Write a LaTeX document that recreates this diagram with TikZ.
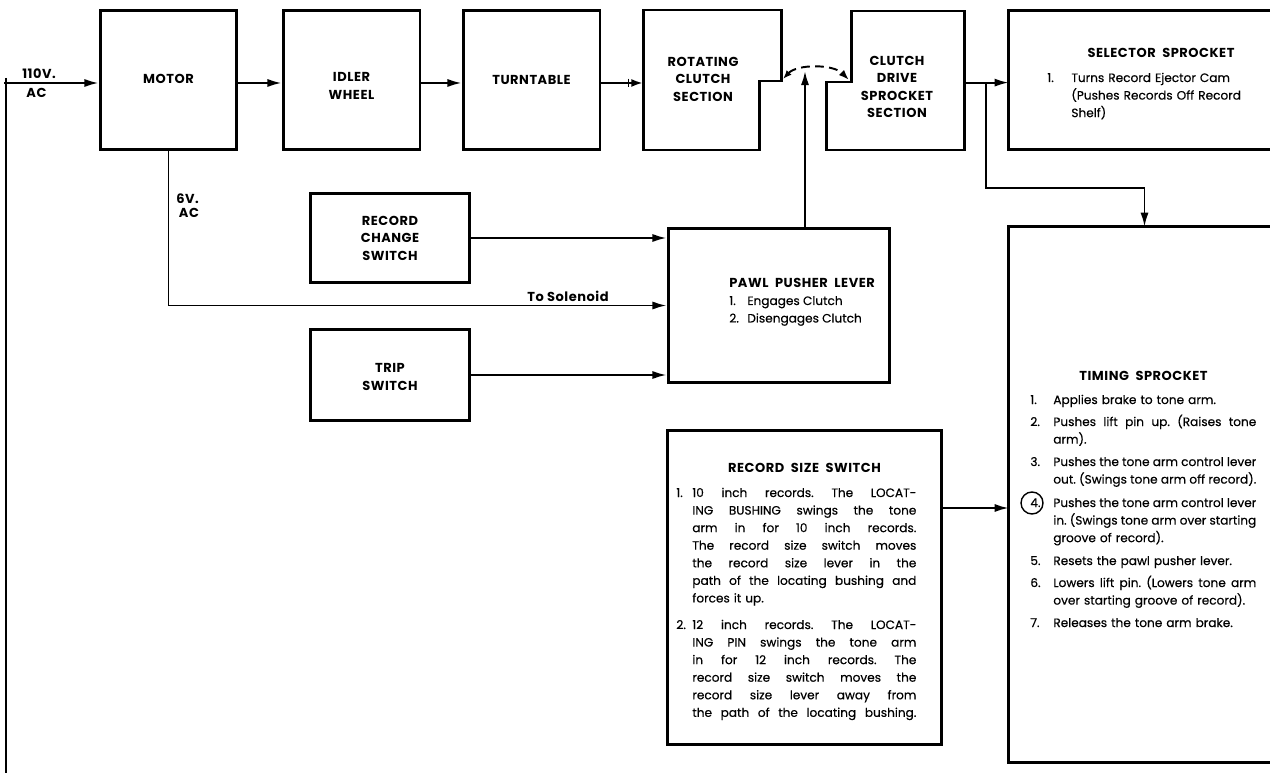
\documentclass[tikz,border=0pt]{standalone}
\usepackage{fontspec}
\setmainfont{Poppins}
\newfontfamily\ttlfont{Poppins}[LetterSpace=4]
\newfontfamily\bodyfont{Poppins}[FakeBold=0.4]
\usetikzlibrary{arrows.meta,calc}
\newcommand\jlrs[1]{\makebox[127.5pt][s]{\spaceskip=0.3em plus 2em minus 0.1em\xspaceskip=\spaceskip #1}}
\newcommand\jltm[1]{\makebox[115.5pt][s]{\spaceskip=0.3em plus 2em minus 0.1em\xspaceskip=\spaceskip #1}}
\begin{document}
\begin{tikzpicture}[x=0.02cm,y=-0.02cm,
  box/.style={draw,line width=1.7pt,inner sep=0pt},
  blank/.style={inner sep=0pt},
  lbl/.style={font=\ttlfont\bfseries\fontsize{7.4}{10}\selectfont,align=center,inner sep=0pt},
  conn/.style={line width=1.1pt},
  arr/.style={conn,-{Latex[length=8pt,width=4.6pt]}},
  ttl/.style={font=\ttlfont\bfseries\fontsize{7.4}{10}\selectfont,inner sep=0pt,anchor=base},
  num/.style={font=\bodyfont\fontsize{6.9}{10}\selectfont,inner sep=0pt,anchor=base west},
  body/.style={font=\bodyfont\fontsize{6.9}{10}\selectfont,inner sep=0pt,anchor=base west,align=left},
]
\useasboundingbox (0,0) rectangle (1270,773);
\fill[white] (0,0) rectangle (1270,773);

% left scan edge
\draw[line width=1.2pt] (6,78) -- (6,773);

% boxes
\node[box,minimum width=2.74cm,minimum height=2.8cm] (motor) at (168.5,80) {};
\node[box,minimum width=2.74cm,minimum height=2.8cm] (idler) at (351.5,80) {};
\node[box,minimum width=2.74cm,minimum height=2.8cm] (turn) at (531.5,80) {};
\node[blank,minimum width=2.76cm,minimum height=2.8cm] (rot) at (712,80) {};
\draw[line width=1.7pt] (643,10) -- (781,10) -- (781,81) -- (759,81) -- (759,150) -- (643,150) -- cycle;
\node[blank,minimum width=2.76cm,minimum height=2.78cm] (cd) at (895,80.5) {};
\draw[line width=1.7pt] (851,11) -- (964,11) -- (964,150) -- (826,150) -- (826,82) -- (851,82) -- cycle;
\node[blank,minimum width=5.42cm,minimum height=2.76cm] (sel) at (1144.5,80) {};
\draw[line width=1.7pt] (sel.north east) -- (sel.north west) -- (sel.south west) -- (sel.south east);
\node[box,minimum width=3.2cm,minimum height=1.8cm] (recchg) at (390,238) {};
\node[box,minimum width=3.2cm,minimum height=1.84cm] (trip) at (390,375) {};
\node[box,minimum width=4.44cm,minimum height=3.1cm] (pawl) at (779,305.5) {};
\node[box,minimum width=5.5cm,minimum height=6.3cm] (recsize) at (804.5,587.5) {};
\node[blank,minimum width=5.42cm,minimum height=10.7cm] (timing) at (1144.5,494.5) {};
\draw[line width=1.7pt] (timing.north east) -- (timing.north west) -- (timing.south west) -- (timing.south east);

% box labels
\node[lbl] (tmotor) at (168.5,79) {MOTOR};
\node[lbl] (tidler) at (351.5,86) {IDLER\\WHEEL};
\node[lbl] (tturn) at (531.5,80) {TURNTABLE};
\node[lbl] (trot) at (703,79) {ROTATING\\CLUTCH\\SECTION};
\node[lbl] (tcd) at (897,87) {CLUTCH\\DRIVE\\SPROCKET\\SECTION};
\node[lbl] (trc) at (390,238) {RECORD\\CHANGE\\SWITCH};
\node[lbl] (ttrip) at (390,377) {TRIP\\SWITCH};

% connector labels
\node[lbl] (v110) at (39,74) {110V.};
\node[lbl] (vac) at (36.5,92.5) {AC};
\node[lbl] (v6) at (187.5,199) {6V.};
\node[lbl] (v6ac) at (189,213) {AC};
\node[lbl] (sol) at (568,296) {To Solenoid};

% connectors
\coordinate (src) at (4,83);
\draw[arr] (src) -- (src -| motor.west);
\draw[arr] ([yshift=-1.7pt]motor.east) -- ([yshift=-1.7pt]idler.west);
\draw[arr] ([yshift=-1.7pt]idler.east) -- ([yshift=-1.7pt]turn.west);
\draw[conn,-{Bar[width=5pt,sep=1pt]Latex[length=6.5pt,width=4.6pt]}] ([yshift=-1.7pt]turn.east) -- ([yshift=-1.7pt]rot.west);
\draw[arr] (motor.south) |- (pawl.west);
\draw[arr] (recchg.east) -- (recchg.east -| pawl.west);
\draw[arr] (trip.east) -- (trip.east -| pawl.west);
\coordinate (rn) at (783,79);
\coordinate (cn) at (849,80);
\draw[conn,dash pattern=on 5pt off 3pt,{Latex[length=5pt,width=3.8pt]}-{Latex[length=6pt,width=4.2pt]}] (rn) .. controls (797,64) and (833,64) .. (cn);
\coordinate (tap) at (805,71);
\draw[arr] (tap |- pawl.north) -- (tap);
\draw[arr] ([yshift=-1.2pt]cd.east) -- ([yshift=-1.2pt]cd.east -| sel.west);
\coordinate (br) at (986,82.7);
\draw[conn] (br) |- (timing.north |- 0,188);
\draw[arr] (timing.north |- 0,188) -- (timing.north);
\coordinate (rsy) at (0,508);
\draw[arr] (recsize.east |- rsy) -- (timing.west |- rsy);

% pawl pusher lever text
\node[ttl,anchor=base west] (pawlt) at (729,287.5) {PAWL\ \ PUSHER\ \ LEVER};
\node[num] (p1n) at (729,305) {1.};
\node[body] (p1) at (747,305) {Engages Clutch};
\node[num] (p2n) at (729,322.5) {2.};
\node[body] (p2) at (747,322.5) {Disengages Clutch};

% selector sprocket text
\node[ttl] (selt) at (1161,57.5) {SELECTOR\ \ SPROCKET};
\node[num] (s1n) at (1047,82) {1.};
\node[body,text width=170pt] (s1) at (1071,82) {Turns Record Ejector Cam\\(Pushes Records Off Record\\Shelf)};

% record size switch text
\node[ttl] (rst) at (804.5,472.5) {RECORD\ \ SIZE\ \ SWITCH};
\node[num] (r1n) at (676,497) {1.};
\node[body,text width=127.5pt] (r1) at (692,497) {\jlrs{10 inch records. The LOCAT-}\\
\jlrs{ING BUSHING swings the tone}\\
\jlrs{arm in for 10 inch records.}\\
\jlrs{The record size switch moves}\\
\jlrs{the record size lever in the}\\
\jlrs{path of the locating bushing and}\\
forces it up.};
\node[num] (r2n) at (676,629) {2.};
\node[body,text width=127.5pt] (r2) at (692,629) {\jlrs{12 inch records. The LOCAT-}\\
\jlrs{ING PIN swings the tone arm}\\
\jlrs{in for 12 inch records. The}\\
\jlrs{record size switch moves the}\\
\jlrs{record size lever away from}\\
\jlrs{the path of the locating bushing.}};

% timing sprocket text
\node[ttl] (tst) at (1143.5,380.5) {TIMING\ \ SPROCKET};
\node[num] (t1n) at (1030,404) {1.};
\node[body,text width=115.5pt] (t1) at (1053,404) {Applies brake to tone arm.};
\node[num] (t2n) at (1030,426) {2.};
\node[body,text width=115.5pt] (t2) at (1053,426) {\jltm{Pushes lift pin up. (Raises tone}\\arm).};
\node[num] (t3n) at (1030,466) {3.};
\node[body,text width=115.5pt] (t3) at (1053,466) {\jltm{Pushes the tone arm control lever}\\\jltm{out. (Swings tone arm off record).}};
\node[num] (t4n) at (1030,507) {4.};
\node[draw,circle,line width=0.8pt,minimum size=0.44cm,inner sep=0pt] (c4) at (1032,503) {};
\node[body,text width=115.5pt] (t4) at (1053,507) {\jltm{Pushes the tone arm control lever}\\\jltm{in. (Swings tone arm over starting}\\groove of record).};
\node[num] (t5n) at (1030,565) {5.};
\node[body,text width=115.5pt] (t5) at (1053,565) {Resets the pawl pusher lever.};
\node[num] (t6n) at (1030,587) {6.};
\node[body,text width=115.5pt] (t6) at (1053,587) {\jltm{Lowers lift pin. (Lowers tone arm}\\over starting groove of record).};
\node[num] (t7n) at (1030,627) {7.};
\node[body,text width=115.5pt] (t7) at (1053,627) {Releases the tone arm brake.};
\end{tikzpicture}
\end{document}
